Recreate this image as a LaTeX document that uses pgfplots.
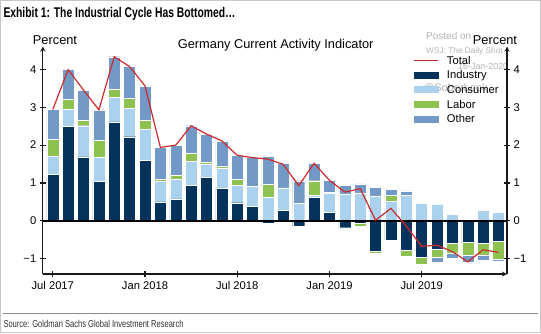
\documentclass[border=0pt]{standalone}
\usepackage{pgfplots}
\pgfplotsset{compat=1.18}
\usepackage{pgfplotstable}
\usepackage{graphicx}
\usepackage{fontspec}
\setmainfont{Liberation Sans}
\definecolor{ind}{HTML}{06335C}
\definecolor{con}{HTML}{AAD2EE}
\definecolor{lab}{HTML}{8DC150}
\definecolor{oth}{HTML}{7399C6}
\definecolor{tot}{HTML}{CC2B2F}
\definecolor{wm}{HTML}{B4B4B4}

\pgfplotstableread{
x  ip   cp   lp   op   in    cn  ln    on    t
0  1.22 0.49 0.44 0.80 0     0   0     0     2.94
1  2.50 0.45 0.26 0.78 0     0   0     0     3.99
2  1.69 0.82 0.14 0.80 0     0   0     0     3.45
3  1.05 0.63 0.44 0.81 0     0   0     0     2.93
4  2.61 0.65 0.22 0.85 0     0   0     0     4.33
5  2.22 0.75 0.26 0.84 0     0   0     0     4.07
6  1.59 0.82 0.25 0.90 0     0   0     0     3.56
7  0.50 0.55 0.05 0.84 0     0   0     0     1.94
8  0.58 0.53 0.09 0.80 0     0   0     0     2.00
9  0.93 0.64 0.22 0.72 0     0   0     0     2.51
10 1.15 0.34 0.07 0.73 0     0   0     0     2.29
11 0.86 0.54 0.04 0.67 0     0   0     0     2.11
12 0.48 0.46 0.16 0.63 0     0   0     0     1.73
13 0.39 0.53 0    0.75 0     0   0     0     1.67
14 0    0.63 0.33 0.74 -0.07 0   0     0     1.63
15 0.27 0.60 0    0.65 0     0   -0.03 0     1.49
16 0    0.47 0    0.59 -0.13 0   0     0     0.93
17 0.63 0.05 0.38 0.46 0     0   0     0     1.52
18 0.23 0.49 0.04 0.31 0     0   0     0     1.07
19 0    0.71 0    0.23 -0.18 0   0     0     0.76
20 0    0.74 0    0.24 -0.07 0   -0.06 0     0.85
21 0    0.66 0    0.22 -0.80 0   -0.06 0     0.02
22 0    0.52 0.16 0.16 -0.51 0   0     0     0.33
23 0    0.68 0    0.11 -0.77 0   -0.16 0     -0.14
24 0    0.46 0    0    -0.97 0   -0.16 0     -0.67
25 0    0.45 0    0    -0.74 0   -0.23 -0.12 -0.64
26 0    0.18 0    0    -0.58 0   -0.28 -0.13 -0.81
27 0    0    0    0    -0.56 0   -0.35 -0.17 -1.08
28 0    0.28 0    0    -0.58 0   -0.33 -0.13 -0.76
29 0    0.23 0    0    -0.54 0   -0.48 -0.04 -0.83
}\gdata

\pgfplotsset{
  base/.style={at={(42.8pt,59pt)}, anchor=south west, scale only axis,
    width=464.2pt, height=227.5pt, xmin=-0.65, xmax=29.55, ymin=-1.4, ymax=4.6},
  seg/.style={fill=#1, draw=white, line width=0.4pt},
  decor/.style={tick align=outside, major tick length=6pt,
    axis line style={-, line width=1.3pt, black!90},
    tick style={line width=1.1pt, black!90},
    ytick={-1,0,1,2,3,4}, yticklabels={−1,0,1,2,3,4},
    tick label style={font=\fontsize{11.2}{13}\selectfont}}
}

\begin{document}
\begin{tikzpicture}
\path[use as bounding box, fill=white] (0pt,0pt) rectangle (541pt,333pt);
\draw[black!22, line width=1pt] (0.5pt,0.5pt) rectangle (540.5pt,332.5pt);
\node[anchor=base west, inner sep=0pt] at (3.3pt,316pt)
  {\resizebox{232pt}{10.2pt}{\bfseries Exhibit 1: The Industrial Cycle Has Bottomed…}};
\draw[black!45, line width=0.8pt] (3pt,20pt) -- (538pt,20pt);
\node[anchor=base west, inner sep=0pt, text=black!80] at (3.3pt,5.5pt)
  {\resizebox{180pt}{7.3pt}{Source: Goldman Sachs Global Investment Research}};
% watermarks
\node[anchor=west, inner sep=0pt, text=wm, font=\fontsize{10}{12}\selectfont] at (426pt,297pt) {Posted on};
\node[anchor=west, inner sep=0pt, text=wm, font=\fontsize{8.3}{10}\selectfont] at (426pt,282pt) {WSJ: The Daily Shot};
\node[anchor=west, inner sep=0pt, text=wm, font=\fontsize{8.9}{10}\selectfont] at (458pt,267pt) {16-Jan-2020};
\node[anchor=west, inner sep=0pt, text=wm, font=\fontsize{11}{13}\selectfont] at (423pt,245pt) {@SoberLook};
% titles
\node[font=\fontsize{12.8}{15}\selectfont] at (55pt,293pt) {Percent};
\node[font=\fontsize{12.8}{15}\selectfont] at (495pt,293pt) {Percent};
\node[font=\fontsize{12.8}{15}\selectfont] at (275.7pt,288pt) {Germany Current Activity Indicator};

% negative stacks
\begin{axis}[base, hide axis, ybar stacked, bar width=12pt]
\addplot[seg=ind] table[x=x,y=in]{\gdata};
\addplot[seg=con] table[x=x,y=cn]{\gdata};
\addplot[seg=lab] table[x=x,y=ln]{\gdata};
\addplot[seg=oth] table[x=x,y=on]{\gdata};
\end{axis}
% positive stacks
\begin{axis}[base, hide axis, ybar stacked, bar width=12pt]
\addplot[seg=ind] table[x=x,y=ip]{\gdata};
\addplot[seg=con] table[x=x,y=cp]{\gdata};
\addplot[seg=lab] table[x=x,y=lp]{\gdata};
\addplot[seg=oth] table[x=x,y=op]{\gdata};
\end{axis}
% main axis
\begin{axis}[base, decor,
  axis x line=bottom, axis y line=left,
  xtick={0,6,12,18,24},
  xticklabels={Jul 2017,Jan 2018,Jul 2018,Jan 2019,Jul 2019},
  xticklabel style={yshift=-1pt},
  legend cell align=left,
  legend style={at={(axis description cs:0.7975,0.973)}, anchor=north west,
    draw=none, fill=none, inner sep=0pt, row sep=0pt,
    font=\fontsize{11.2}{13}\selectfont,
    nodes={inner sep=0pt, text height=11.35pt, text depth=3.35pt}}]
\addplot[black, line width=1.2pt, forget plot] coordinates {(-0.65,0) (29.55,0)};
\addplot[tot, line width=1.2pt, mark=none, forget plot] table[x=x,y=t]{\gdata};
\addlegendimage{legend image code/.code={\draw[tot, line width=1.1pt] (0pt,0pt) -- (24pt,0pt); \path (33pt,0pt);}}
\addlegendentry{Total}
\addlegendimage{legend image code/.code={\fill[ind] (0pt,-3pt) rectangle (24pt,3pt); \path (33pt,0pt);}}
\addlegendentry{Industry}
\addlegendimage{legend image code/.code={\fill[con] (0pt,-3pt) rectangle (24pt,3pt); \path (33pt,0pt);}}
\addlegendentry{Consumer}
\addlegendimage{legend image code/.code={\fill[lab] (0pt,-3pt) rectangle (24pt,3pt); \path (33pt,0pt);}}
\addlegendentry{Labor}
\addlegendimage{legend image code/.code={\fill[oth] (0pt,-3pt) rectangle (24pt,3pt); \path (33pt,0pt);}}
\addlegendentry{Other}
\end{axis}
% right axis
\begin{axis}[base, decor, axis x line=none, axis y line=right]
\addplot[draw=none] coordinates {(0,0)};
\end{axis}
\end{tikzpicture}
\end{document}
